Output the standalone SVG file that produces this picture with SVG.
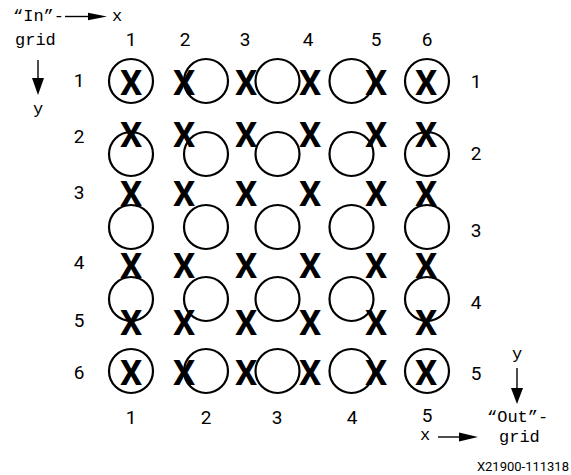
<svg xmlns="http://www.w3.org/2000/svg" width="571" height="475" viewBox="0 0 571 475">
<style>
.c{fill:none;stroke:#000;stroke-width:2.2}
.x{font-family:Roboto,"Liberation Sans",sans-serif;font-weight:bold;font-size:35px;text-anchor:middle;fill:#000}
.n{font-family:Roboto,"Liberation Sans",sans-serif;font-size:19px;text-anchor:middle;fill:#000}
.m{font-family:"Liberation Mono","Courier New",monospace;font-size:17px;fill:#000}
.l{stroke:#000;stroke-width:1.4;fill:none}
.h{fill:#000}
</style>
<rect width="571" height="475" fill="#fff"/>
<g id="circles">
<circle class="c" cx="131" cy="81" r="22"/><circle class="c" cx="206" cy="81" r="22"/><circle class="c" cx="277.5" cy="81" r="22"/><circle class="c" cx="351.5" cy="81" r="22"/><circle class="c" cx="427" cy="81" r="22"/>
<circle class="c" cx="131" cy="154" r="22"/><circle class="c" cx="206" cy="154" r="22"/><circle class="c" cx="277.5" cy="154" r="22"/><circle class="c" cx="351.5" cy="154" r="22"/><circle class="c" cx="427" cy="154" r="22"/>
<circle class="c" cx="131" cy="227" r="22"/><circle class="c" cx="206" cy="227" r="22"/><circle class="c" cx="277.5" cy="227" r="22"/><circle class="c" cx="351.5" cy="227" r="22"/><circle class="c" cx="427" cy="227" r="22"/>
<circle class="c" cx="131" cy="299" r="22"/><circle class="c" cx="206" cy="299" r="22"/><circle class="c" cx="277.5" cy="299" r="22"/><circle class="c" cx="351.5" cy="299" r="22"/><circle class="c" cx="427" cy="299" r="22"/>
<circle class="c" cx="131" cy="371" r="22"/><circle class="c" cx="206" cy="371" r="22"/><circle class="c" cx="277.5" cy="371" r="22"/><circle class="c" cx="351.5" cy="371" r="22"/><circle class="c" cx="427" cy="371" r="22"/>
</g>
<g id="xs">
<text class="x" x="131" y="94.5">X</text><text class="x" x="184" y="94.5">X</text><text class="x" x="246" y="94.5">X</text><text class="x" x="310" y="94.5">X</text><text class="x" x="376" y="94.5">X</text><text class="x" x="426" y="94.5">X</text>
<text class="x" x="131" y="146.5">X</text><text class="x" x="184" y="146.5">X</text><text class="x" x="246" y="146.5">X</text><text class="x" x="310" y="146.5">X</text><text class="x" x="376" y="146.5">X</text><text class="x" x="426" y="146.5">X</text>
<text class="x" x="131" y="205.5">X</text><text class="x" x="184" y="205.5">X</text><text class="x" x="246" y="205.5">X</text><text class="x" x="310" y="205.5">X</text><text class="x" x="376" y="205.5">X</text><text class="x" x="426" y="205.5">X</text>
<text class="x" x="131" y="277.5">X</text><text class="x" x="184" y="277.5">X</text><text class="x" x="246" y="277.5">X</text><text class="x" x="310" y="277.5">X</text><text class="x" x="376" y="277.5">X</text><text class="x" x="426" y="277.5">X</text>
<text class="x" x="131" y="334.5">X</text><text class="x" x="184" y="334.5">X</text><text class="x" x="246" y="334.5">X</text><text class="x" x="310" y="334.5">X</text><text class="x" x="376" y="334.5">X</text><text class="x" x="426" y="334.5">X</text>
<text class="x" x="131" y="384.5">X</text><text class="x" x="184" y="384.5">X</text><text class="x" x="246" y="384.5">X</text><text class="x" x="310" y="384.5">X</text><text class="x" x="376" y="384.5">X</text><text class="x" x="426" y="384.5">X</text>
</g>
<g id="labels">
<text class="n" x="131" y="46">1</text><text class="n" x="185" y="46">2</text><text class="n" x="245" y="46">3</text><text class="n" x="308" y="46">4</text><text class="n" x="376" y="46">5</text><text class="n" x="427" y="46">6</text>
<text class="n" x="79" y="87">1</text><text class="n" x="79" y="143">2</text><text class="n" x="79" y="199">3</text><text class="n" x="79" y="269">4</text><text class="n" x="79" y="327">5</text><text class="n" x="79" y="379">6</text>
<text class="n" x="476" y="88">1</text><text class="n" x="476" y="160">2</text><text class="n" x="476" y="237">3</text><text class="n" x="476" y="309">4</text><text class="n" x="476" y="380">5</text>
<text class="n" x="131" y="424">1</text><text class="n" x="206" y="424">2</text><text class="n" x="277" y="424">3</text><text class="n" x="352" y="424">4</text><text class="n" x="427" y="422">5</text>
</g>
<g id="in-grid">
<text class="m" x="13" y="21">“In”-</text>
<text class="m" x="15" y="45">grid</text>
<text class="m" x="112" y="21">x</text>
<text class="m" x="38" y="114" text-anchor="middle">y</text>
</g>
<g id="out-grid">
<text class="m" x="517" y="359" text-anchor="middle">y</text>
<text class="m" x="487" y="422">“Out”-</text>
<text class="m" x="499" y="442">grid</text>
<text class="m" x="425" y="440" text-anchor="middle">x</text>
</g>
<g id="connectors">
<line class="l" x1="65" y1="16.5" x2="89" y2="16.5"/><polygon class="h" points="88,12.8 107,16.5 88,20.2"/>
<line class="l" x1="38" y1="60" x2="38" y2="79"/><polygon class="h" points="32,78 44,78 38,95"/>
<line class="l" x1="517" y1="368" x2="517" y2="389"/><polygon class="h" points="511,388 523,388 517,404"/>
<line class="l" x1="438" y1="437" x2="460" y2="437"/><polygon class="h" points="459,432.5 478,437 459,441.5"/>
</g>
<text x="569" y="471" text-anchor="end" style="font-family:Roboto,'Liberation Sans',sans-serif;font-size:13px;fill:#000">X21900-111318</text>
</svg>
